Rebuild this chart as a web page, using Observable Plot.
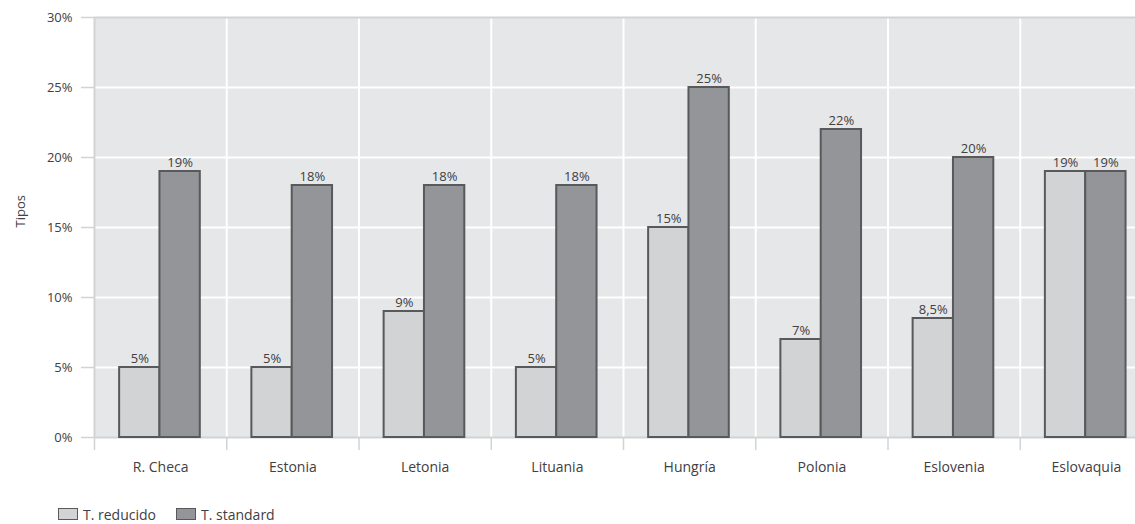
<!DOCTYPE html>
<html>
<head>
<meta charset="utf-8">
<script src="https://cdn.jsdelivr.net/npm/d3@7"></script>
<script src="https://cdn.jsdelivr.net/npm/@observablehq/plot@0.6"></script>
<style>
  body { margin: 0; background: #fff; overflow: hidden; font-family: "Open Sans", sans-serif; }
  #chart svg { display: block; overflow: hidden; }
  .legend { display: flex; align-items: center; margin: 17px 0 0 58px; height: 14px; font-size: 14px; color: #414042; }
  .legend .item { display: flex; align-items: center; margin-right: 20px; }
  .legend .swatch { box-sizing: border-box; width: 20px; height: 12px; border: 1.5px solid #58595b; margin-right: 5px; }
</style>
</head>
<body>
<div id="chart"></div>
<script>
// Tipos de IVA por país
const countries = ["R. Checa", "Estonia", "Letonia", "Lituania", "Hungría", "Polonia", "Eslovenia", "Eslovaquia"];
const reducido = [5, 5, 9, 5, 15, 7, 8.5, 19];
const standard = [19, 18, 18, 18, 25, 22, 20, 19];
const series = ["T. reducido", "T. standard"];
const seriesColors = ["#d1d3d4", "#939598"];
const yTicks = [0, 5, 10, 15, 20, 25, 30];

const rows = countries.flatMap((country, i) => [
  {country, i, serie: series[0], k: 0, value: reducido[i]},
  {country, i, serie: series[1], k: 1, value: standard[i]}
]);

// each country occupies one unit on the x axis; the pair of bars sits inside it
const barStart = 0.19, barWidth = 0.305;
const x1 = d => d.i + barStart + d.k * barWidth;
const x2 = d => d.i + barStart + (d.k + 1) * barWidth;
const pct = v => String(v).replace(".", ",") + "%";

const grid = "#d1d3d4";
const ink = "#414042";

const chart = Plot.plot({
  width: 1135,
  height: 490,
  marginLeft: 94,
  marginRight: -17,
  marginTop: 17,
  marginBottom: 53,
  style: {fontFamily: "Open Sans, sans-serif", fontSize: "13px", color: ink, background: "white"},
  x: {domain: [0, countries.length], axis: null},
  y: {domain: [0, 30], axis: null},
  color: {domain: series, range: seriesColors},
  marks: [
    Plot.frame({fill: "#e6e7e8"}),
    Plot.ruleY(yTicks.slice(1, -1), {stroke: "white", strokeWidth: 2}),
    Plot.ruleX(d3.range(1, countries.length), {stroke: "white", strokeWidth: 2}),
    Plot.ruleY([30], {stroke: grid, strokeWidth: 2}),
    Plot.ruleY([0], {stroke: grid, strokeWidth: 2}),
    Plot.ruleX([0], {stroke: grid, strokeWidth: 2}),
    Plot.axisY({ticks: yTicks, tickFormat: d => d + "%", tickSize: 13, tickPadding: 9,
                stroke: grid, strokeWidth: 1.5, fill: ink, label: null}),
    Plot.axisX({ticks: d3.range(0, countries.length + 1), tickFormat: () => "", tickSize: 13,
                stroke: grid, strokeWidth: 1.5, label: null}),
    Plot.axisX({ticks: countries.map((c, i) => i + 0.5), tickFormat: v => countries[Math.floor(v)],
                tickSize: 0, tickPadding: 25, fontSize: 14, fill: ink, label: null}),
    Plot.rectY(rows, {x1, x2, y1: 0, y2: "value", fill: "serie", stroke: "#58595b", strokeWidth: 2}),
    Plot.text(rows, {x: d => (x1(d) + x2(d)) / 2, y: "value", text: d => pct(d.value),
                     lineAnchor: "bottom", dy: -5, fontSize: 13, fill: ink}),
    Plot.text(["Tipos"], {frameAnchor: "left", rotate: -90, dx: -74, fontSize: 13, fill: ink})
  ]
});
document.getElementById("chart").append(chart);

// legend below the chart
const legend = document.createElement("div");
legend.className = "legend";
series.forEach((s, j) => {
  const item = document.createElement("div");
  item.className = "item";
  const sw = document.createElement("span");
  sw.className = "swatch";
  sw.style.background = seriesColors[j];
  const label = document.createElement("span");
  label.textContent = s;
  item.append(sw, label);
  legend.append(item);
});
document.body.append(legend);
</script>
</body>
</html>
